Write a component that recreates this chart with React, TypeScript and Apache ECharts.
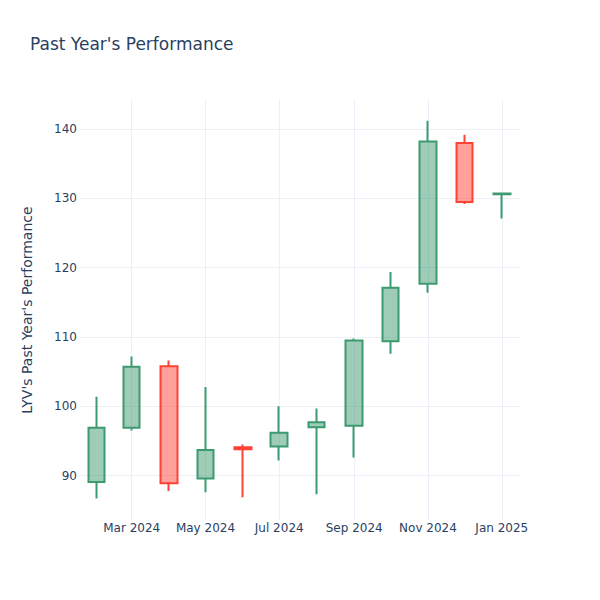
import React, { useEffect, useRef } from "react";
import * as echarts from "echarts";

const dates = [
  "2024-02-01", "2024-03-01", "2024-04-01", "2024-05-01", "2024-06-01", "2024-07-01",
  "2024-08-01", "2024-09-01", "2024-10-01", "2024-11-01", "2024-12-01", "2025-01-01",
];
const opens = [89.1, 96.9, 105.8, 89.6, 94.1, 94.2, 97.0, 97.2, 109.4, 117.7, 138.0, 130.6];
const closes = [96.9, 105.7, 88.9, 93.7, 93.8, 96.2, 97.7, 109.5, 117.1, 138.2, 129.5, 130.7];
const lows = [86.7, 96.5, 87.8, 87.6, 86.9, 92.2, 87.3, 92.6, 107.6, 116.4, 129.2, 127.1];
const highs = [101.4, 107.2, 106.6, 102.8, 94.5, 100.0, 99.7, 109.8, 119.4, 141.2, 139.2, 130.8];

const xTickDates = ["2024-03-01", "2024-05-01", "2024-07-01", "2024-09-01", "2024-11-01", "2025-01-01"];
const yTicks = [90, 100, 110, 120, 130, 140];
const MONTHS = ["Jan", "Feb", "Mar", "Apr", "May", "Jun", "Jul", "Aug", "Sep", "Oct", "Nov", "Dec"];

function toTime(s: string): number {
  const [y, m, d] = s.split("-").map(Number);
  return new Date(y, m - 1, d).getTime();
}

export default function App() {
  const ref = useRef<HTMLDivElement>(null);
  useEffect(() => {
    if (!ref.current) return;
    const chart = echarts.init(ref.current, null, { renderer: "svg" });
    const data = dates.map((d, i) => [toTime(d), opens[i], closes[i], lows[i], highs[i]]);
    const font = "'DejaVu Sans', sans-serif";
    const textColor = "#2a3f5f";
    const grid = "#EBF0F8";
    chart.setOption({
      animation: false,
      backgroundColor: "#ffffff",
      textStyle: { fontFamily: font },
      title: {
        text: "Past Year's Performance",
        left: 30,
        top: 35,
        padding: 0,
        textStyle: { fontFamily: font, fontSize: 17, fontWeight: "normal", color: textColor },
      },
      grid: { left: 80, right: 80, top: 100, bottom: 80, containLabel: false, outerBoundsMode: "none" },
      xAxis: {
        type: "value",
        scale: true,
        min: new Date(2024, 0, 18, 6).getTime(),
        max: new Date(2025, 0, 16, 2).getTime(),
        axisLine: { show: false },
        axisTick: { show: false, customValues: xTickDates.map(toTime) },
        axisLabel: {
          customValues: xTickDates.map(toTime),
          formatter: (v: number) => {
            const d = new Date(v);
            return MONTHS[d.getMonth()] + " " + d.getFullYear();
          },
          color: textColor,
          fontSize: 12,
          fontFamily: font,
          margin: 2,
        },
        splitLine: { show: true, lineStyle: { color: grid, width: 1 } },
      },
      yAxis: {
        type: "value",
        min: 83.6,
        max: 144.2,
        name: "LYV's Past Year's Performance",
        nameLocation: "middle",
        nameGap: 46,
        nameTextStyle: { fontFamily: font, fontSize: 14, color: textColor },
        axisLine: { show: false },
        axisTick: { show: false, customValues: yTicks },
        axisLabel: {
          customValues: yTicks,
          color: textColor,
          fontSize: 12,
          fontFamily: font,
          margin: 3,
        },
        splitLine: { show: true, lineStyle: { color: grid, width: 1 } },
      },
      series: [
        {
          type: "candlestick",
          data,
          encode: { x: 0, y: [1, 2, 3, 4] },
          barWidth: 17,
          itemStyle: {
            color: "rgba(61,153,112,0.5)",
            color0: "rgba(255,65,54,0.5)",
            borderColor: "#3D9970",
            borderColor0: "#FF4136",
            borderColorDoji: "#3D9970",
            borderWidth: 2,
          },
        },
      ],
    });
    return () => chart.dispose();
  }, []);
  return <div ref={ref} style={{ position: "absolute", left: 0, top: 0, width: 600, height: 600 }} />;
}
